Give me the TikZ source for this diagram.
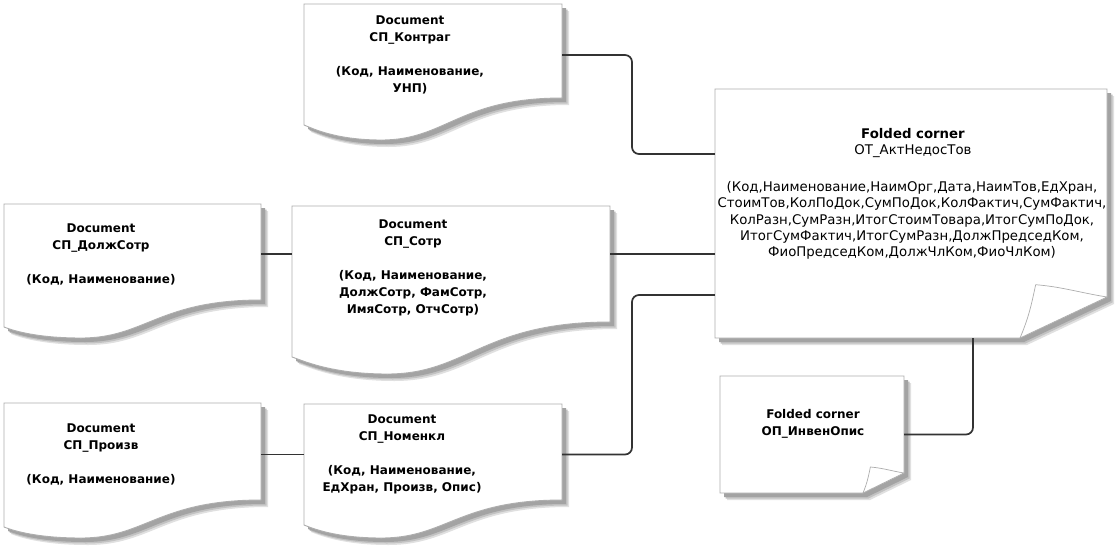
\documentclass[tikz,border=0pt]{standalone}
\usepackage{fontspec}
\setmainfont{DejaVu Sans}
\tikzset{
  x=1pt, y=-1pt,
  boxline/.style={draw=black!32, line width=0.9pt, fill=white},
  shA/.style={fill=black!12, draw=none},
  shB/.style={fill=black!24, draw=none},
  shC/.style={fill=black!36, draw=none},
  conn/.style={draw=black!80, line width=1.7pt, rounded corners=7pt},
  anch/.style={draw=none, inner sep=0pt},
  btxt/.style={font=\bfseries\fontsize{12}{17}\selectfont, align=center, inner sep=0pt},
  rtxt/.style={font=\fontsize{13.3}{16.25}\selectfont, align=center, inner sep=0pt},
}
% document outline: x1 y1 x2 yR yL ymin
\newcommand\docpath[6]{(#1,#2) -- (#3,#2) -- (#3,#4) .. controls ({#3-0.4*(#3-#1)},#4) and ({#1+0.55*(#3-#1)},#6) .. ({#1+0.3*(#3-#1)},#6) .. controls ({#1+0.12*(#3-#1)},#6) and ({#1+0.03*(#3-#1)},{#5+3}) .. (#1,#5) -- cycle}
\newcommand\docshape[6]{%
  \begin{scope}[xshift=7pt, yshift=-7pt]\fill[shA] \docpath{#1}{#2}{#3}{#4}{#5}{#6};\end{scope}
  \begin{scope}[xshift=5.5pt, yshift=-5.5pt]\fill[shB] \docpath{#1}{#2}{#3}{#4}{#5}{#6};\end{scope}
  \begin{scope}[xshift=4pt, yshift=-4pt]\fill[shC] \docpath{#1}{#2}{#3}{#4}{#5}{#6};\end{scope}
  \path[boxline] \docpath{#1}{#2}{#3}{#4}{#5}{#6};
}
% folded corner: x1 y1 x2 y2 yf xf
\newcommand\foldpath[6]{(#1,#2) -- (#3,#2) -- (#3,#5) -- (#6,#4) -- (#1,#4) -- cycle}
\newcommand\foldshape[6]{%
  \begin{scope}[xshift=7pt, yshift=-7pt]\fill[shA] \foldpath{#1}{#2}{#3}{#4}{#5}{#6};\end{scope}
  \begin{scope}[xshift=5.5pt, yshift=-5.5pt]\fill[shB] \foldpath{#1}{#2}{#3}{#4}{#5}{#6};\end{scope}
  \begin{scope}[xshift=4pt, yshift=-4pt]\fill[shC] \foldpath{#1}{#2}{#3}{#4}{#5}{#6};\end{scope}
  \path[boxline] \foldpath{#1}{#2}{#3}{#4}{#5}{#6};
  \path[draw=black!32, line width=0.7pt, fill=white] (#6,#4) .. controls ({#6+0.1*(#3-#6)},{#4-0.5*(#4-#5)}) and ({#3-0.87*(#3-#6)},{#5+0.2*(#4-#5)}) .. ({#3-0.82*(#3-#6)},{#5-0.3*(#4-#5)}) .. controls ({#3-0.52*(#3-#6)},{#5-0.25*(#4-#5)}) and ({#3-0.3*(#3-#6)},{#5-0.1*(#4-#5)}) .. (#3,#5) -- cycle;
}
\begin{document}
\begin{tikzpicture}
\useasboundingbox (0,0) rectangle (1119,557);
\fill[white] (0,0) rectangle (1119,557);

% shapes
\docshape{304}{4}{562}{98}{125}{140}
\docshape{4}{204}{261}{300}{327}{338}
\docshape{292}{206}{610}{322}{357}{374}
\docshape{4}{403}{261}{500}{527}{538}
\docshape{304}{404}{562}{500}{525}{538}
\foldshape{715}{89}{1107}{338}{297}{1020}
\foldshape{720}{376}{904}{493}{473}{863}

% anchor nodes
\node[anch, minimum width=258pt, minimum height=102pt] (kontr) at (433,55) {};
\node[anch, minimum width=257pt, minimum height=100pt] (dolzh) at (132.5,254) {};
\node[anch, minimum width=318pt, minimum height=96pt] (sotr) at (451,254) {};
\node[anch, minimum width=257pt, minimum height=103pt] (proizv) at (132.5,454.5) {};
\node[anch, minimum width=258pt, minimum height=101pt] (nomen) at (433,454.5) {};
\node[anch, minimum width=392pt, minimum height=249pt] (ot) at (911,213.5) {};
\node[anch, minimum width=184pt, minimum height=117pt] (inv) at (812,434.5) {};

% texts
\node[btxt] (kontr-t) at (410,54.5) {Document\\СП\_Контраг\\[17pt](Код, Наименование,\\УНП)};
\node[btxt] (dolzh-t) at (101,254) {Document\\СП\_ДолжСотр\\[17pt](Код, Наименование)};
\node[btxt] (sotr-t) at (413,267.5) {Document\\СП\_Сотр\\[17pt](Код, Наименование,\\ДолжСотр, ФамСотр,\\ИмяСотр, ОтчСотр)};
\node[btxt] (proizv-t) at (101,454) {Document\\СП\_Произв\\[17pt](Код, Наименование)};
\node[btxt] (nomen-t) at (402,454) {Document\\СП\_Номенкл\\[17pt](Код, Наименование,\\ЕдХран, Произв, Опис)};
\node[btxt] (inv-t) at (813,423.5) {Folded corner\\ОП\_ИнвенОпис};
\node[rtxt] (ot-t1) at (913,143) {\textbf{Folded corner}\\ОТ\_АктНедосТов};
\node[rtxt] (ot-t2) at (912,220.5) {(Код,Наименование,НаимОрг,Дата,НаимТов,ЕдХран,\\СтоимТов,КолПоДок,СумПоДок,КолФактич,СумФактич,\\КолРазн,СумРазн,ИтогСтоимТовара,ИтогСумПоДок,\\ИтогСумФактич,ИтогСумРазн,ДолжПредседКом,\\ФиоПредседКом,ДолжЧлКом,ФиоЧлКом)};

% connectors
\coordinate (jA) at (632,154);
\coordinate (jB) at (632,295);
\coordinate (jC) at (973,434.5);
\draw[conn] (kontr.east) -| (jA) -- (ot.west |- jA);
\draw[conn] (dolzh.east) -- (sotr.west);
\draw[conn] (sotr.east) -- (ot.west |- sotr.east);
\draw[conn] (proizv.east) -- (nomen.west);
\draw[conn] (nomen.east) -| (jB) -- (ot.west |- jB);
\draw[conn] (ot.south -| jC) -- (jC) -- (inv.east);
\end{tikzpicture}
\end{document}
